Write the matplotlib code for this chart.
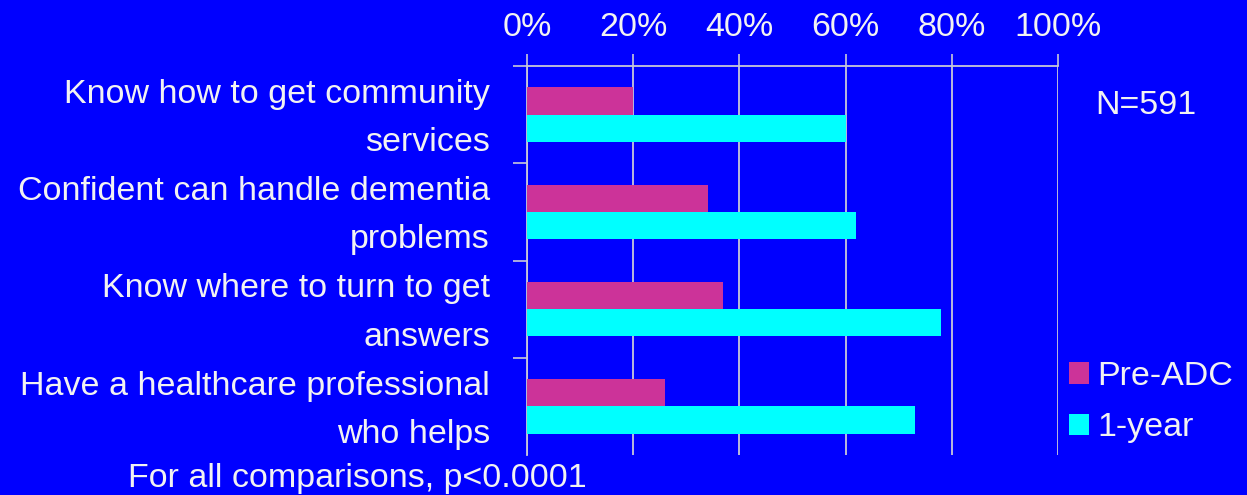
import matplotlib
matplotlib.use("Agg")
import matplotlib.pyplot as plt
import numpy as np

# Survey items (two text lines each) and percentages agreeing
label_line1 = ["Know how to get community", "Confident can handle dementia",
               "Know where to turn to get", "Have a healthcare professional"]
label_line2 = ["services", "problems", "answers", "who helps"]
pre_adc = [20, 34, 37, 26]
one_year = [60, 62, 78, 73]
series_names = ["Pre-ADC", "1-year"]
x_ticks = [0, 20, 40, 60, 80, 100]
x_tick_labels = ["0%", "20%", "40%", "60%", "80%", "100%"]
note_text = "For all comparisons, p<0.0001"
n_text = "N=591"

BG = "#0000FF"
MAGENTA = "#CC3399"
CYAN = "#00FFFF"
GRID = "#C8C8D8"
TXT = "#F2F2F2"
FS = 24.5

plt.rcParams["font.family"] = ["Liberation Sans", "DejaVu Sans"]

W, H = 1247, 495
fig = plt.figure(figsize=(W / 100, H / 100), dpi=100, facecolor=BG)
ax = fig.add_axes([527 / W, 1 - 455 / H, (1058 - 527) / W, (455 - 66) / H])
ax.set_facecolor(BG)

y = np.arange(len(pre_adc))
bh = 0.28
b1 = ax.barh(y - bh / 2, pre_adc, height=bh, color=MAGENTA, zorder=3)
b2 = ax.barh(y + bh / 2, one_year, height=bh, color=CYAN, zorder=3)

ax.set_xlim(0, 100)
ax.set_ylim(len(pre_adc) - 0.5, -0.5)

# percentage axis on top with vertical grid lines
ax.xaxis.tick_top()
ax.set_xticks(x_ticks)
ax.set_xticklabels(x_tick_labels, fontsize=FS, color=TXT)
ax.tick_params(axis="x", which="major", length=8.5, width=1.2, color=GRID, pad=8)
ax.grid(axis="x", color=GRID, linewidth=1.3, zorder=1)

# category separators on the left
ax.set_yticks(np.arange(len(pre_adc)) - 0.5)
ax.set_yticklabels([])
ax.tick_params(axis="y", length=10, width=1.2, color=GRID)

for side in ["right", "bottom"]:
    ax.spines[side].set_visible(False)
for side in ["top", "left"]:
    ax.spines[side].set_color(GRID)
    ax.spines[side].set_linewidth(1.3)

# two-line category labels
for i in range(len(label_line1)):
    ax.annotate(label_line1[i], xy=(0, i - 0.12), xycoords=("axes fraction", "data"),
                xytext=(-37, 0), textcoords="offset pixels",
                ha="right", va="baseline", fontsize=FS, color=TXT)
    ax.annotate(label_line2[i], xy=(0, i + 0.375), xycoords=("axes fraction", "data"),
                xytext=(-37, 0), textcoords="offset pixels",
                ha="right", va="baseline", fontsize=FS, color=TXT)

fig.text(1095 / W, 1 - 105 / H, n_text, fontsize=FS, color=TXT, ha="left", va="center")

leg = fig.legend([b1, b2], series_names, loc="upper left",
                 bbox_to_anchor=(1069 / W, 1 - 361 / H), frameon=False,
                 fontsize=FS, labelcolor=TXT, handlelength=0.58, handleheight=0.58,
                 handletextpad=0.25, labelspacing=0.6, borderaxespad=0, borderpad=0)

fig.text(128 / W, 1 - 478 / H, note_text, fontsize=FS, color=TXT, ha="left", va="center")

fig.savefig("out.png", dpi=100, facecolor=BG)
